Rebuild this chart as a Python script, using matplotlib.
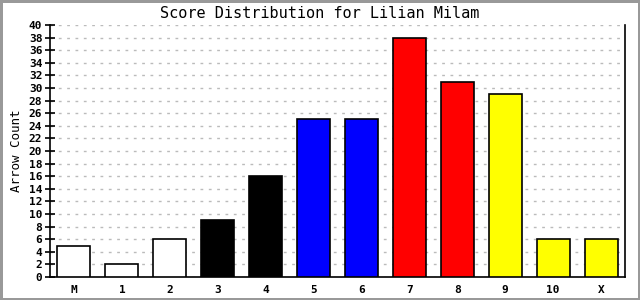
import matplotlib
matplotlib.use("Agg")
import matplotlib.pyplot as plt
import numpy as np

categories = ['M', '1', '2', '3', '4', '5', '6', '7', '8', '9', '10', 'X']
counts = [5, 2, 6, 9, 16, 25, 25, 38, 31, 29, 6, 6]
bar_colors = ['white', 'white', 'white', 'black', 'black', 'blue', 'blue',
              'red', 'red', 'yellow', 'yellow', 'yellow']
yticks = list(range(0, 41, 2))

plt.rcParams['font.family'] = ['DejaVu Sans Mono']

fig = plt.figure(figsize=(6.4, 3.0), dpi=100)
fig.patch.set_facecolor('white')
fig.patch.set_edgecolor('#999999')
fig.patch.set_linewidth(2.2)

ax = fig.add_axes([50 / 640, 23 / 300, 575 / 640, 252 / 300])
x = np.arange(len(categories))
ax.bar(x, counts, width=0.69, color=bar_colors, edgecolor='black', linewidth=1.2, zorder=3)

ax.set_xlim(-0.5, len(categories) - 0.5)
ax.set_ylim(0, 40)
ax.set_yticks(yticks)
ax.set_xticks(x)
ax.set_xticklabels(categories, fontsize=8, fontweight='bold')
ax.set_yticklabels([str(v) for v in yticks], fontsize=8, fontweight='bold')
ax.tick_params(axis='y', direction='inout', length=7, width=1.2, pad=2)
ax.tick_params(axis='x', length=0, pad=6)

ax.grid(axis='y', color='#bbbbbb', linestyle=(0, (2, 4)), linewidth=1, zorder=0)
ax.spines['top'].set_visible(False)
for s in ['left', 'right', 'bottom']:
    ax.spines[s].set_linewidth(1.2)

ax.set_ylabel('Arrow Count', fontsize=9, labelpad=4)
fig.text(0.5, 0.955, 'Score Distribution for Lilian Milam', ha='center', va='center', fontsize=11)

fig.savefig('out.png', dpi=100, facecolor=fig.get_facecolor(), edgecolor=fig.get_edgecolor())
